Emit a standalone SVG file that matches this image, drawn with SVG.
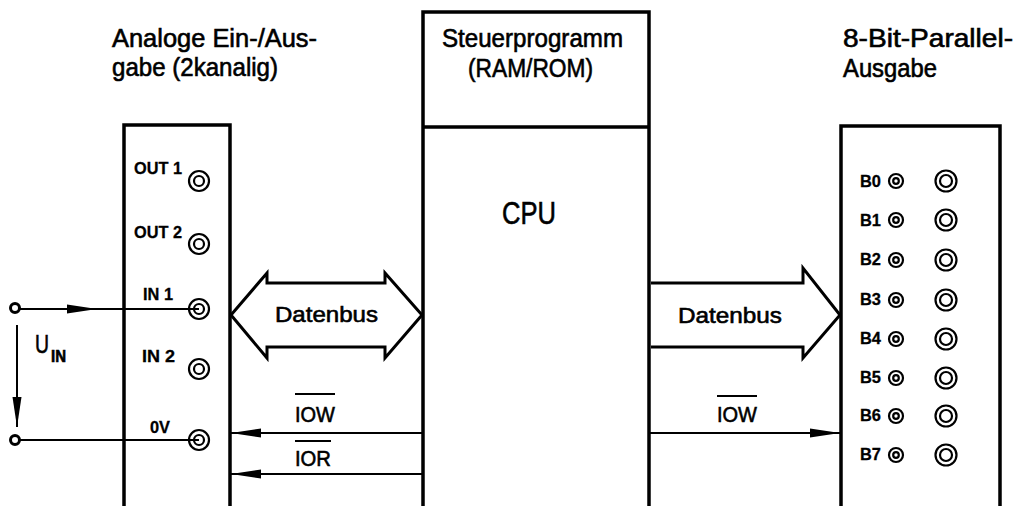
<svg xmlns="http://www.w3.org/2000/svg" width="1016" height="506" viewBox="0 0 1016 506">
<defs>
<style>
.box{fill:none;stroke:#000;stroke-width:3.5;stroke-linejoin:miter}
.ln{fill:none;stroke:#000;stroke-width:2}
.bus{fill:#fff;stroke:#000;stroke-width:3;stroke-linejoin:miter}
.ring{fill:none;stroke:#000;stroke-width:2.2}
.term{fill:#fff;stroke:#000;stroke-width:3}
.t{font-family:"Liberation Sans","DejaVu Sans",sans-serif;fill:#000;stroke:#000;stroke-width:0.6}
.title{font-size:25px}
.pin{font-size:17px;font-weight:bold;stroke-width:0.3}
.sig{font-size:22px}
</style>
<marker id="ah" viewBox="0 0 30 10" refX="30" refY="5" markerWidth="30" markerHeight="10" markerUnits="userSpaceOnUse" orient="auto">
<path d="M0,0.5 L30,5 L0,9.5 Z" fill="#000"/>
</marker>
</defs>

<g id="analog-io">
<path class="box" d="M124,506 V125 H230 V506"/>
<text class="t title" x="112" y="47" textLength="205" lengthAdjust="spacingAndGlyphs">Analoge Ein-/Aus-</text>
<text class="t title" x="112" y="76" textLength="166" lengthAdjust="spacingAndGlyphs">gabe (2kanalig)</text>
<text class="t pin" x="134" y="174" textLength="48" lengthAdjust="spacingAndGlyphs">OUT 1</text>
<circle class="ring" cx="199" cy="181" r="10"/><circle class="ring" cx="199" cy="181" r="5"/>
<text class="t pin" x="134" y="238" textLength="48" lengthAdjust="spacingAndGlyphs">OUT 2</text>
<circle class="ring" cx="199" cy="244" r="10"/><circle class="ring" cx="199" cy="244" r="5"/>
<text class="t pin" x="143" y="300" textLength="30" lengthAdjust="spacingAndGlyphs">IN 1</text>
<circle class="ring" cx="199" cy="309" r="10"/><circle class="ring" cx="199" cy="309" r="5"/>
<text class="t pin" x="142" y="362" textLength="33" lengthAdjust="spacingAndGlyphs">IN 2</text>
<circle class="ring" cx="199" cy="369" r="10"/><circle class="ring" cx="199" cy="369" r="5"/>
<text class="t pin" x="150" y="433" textLength="20" lengthAdjust="spacingAndGlyphs">0V</text>
<circle class="ring" cx="199" cy="440" r="10"/><circle class="ring" cx="199" cy="440" r="5"/>
</g>

<g id="cpu">
<path class="box" d="M423,506 V12 H649 V506 M423,127 H649"/>
<text class="t title" x="442" y="47" textLength="181" lengthAdjust="spacingAndGlyphs">Steuerprogramm</text>
<text class="t title" x="468" y="77" textLength="125" lengthAdjust="spacingAndGlyphs">(RAM/ROM)</text>
<text class="t" x="502" y="224" font-size="32" stroke-width="1.2" textLength="54" lengthAdjust="spacingAndGlyphs">CPU</text>
</g>

<g id="parallel-out">
<path class="box" d="M841,506 V126 H1000 V506"/>
<text class="t title" x="843" y="47" textLength="170" lengthAdjust="spacingAndGlyphs">8-Bit-Parallel-</text>
<text class="t title" x="843" y="77" textLength="94" lengthAdjust="spacingAndGlyphs">Ausgabe</text>
<g id="b0"><text class="t pin" x="860" y="187" textLength="21" lengthAdjust="spacingAndGlyphs">B0</text><circle class="ring" cx="896" cy="181" r="7"/><circle class="ring" cx="896" cy="181" r="2.8"/><circle class="ring" cx="946" cy="181" r="10.5"/><circle class="ring" cx="946" cy="181" r="6"/></g>
<g id="b1"><text class="t pin" x="860" y="226" textLength="21" lengthAdjust="spacingAndGlyphs">B1</text><circle class="ring" cx="896" cy="220" r="7"/><circle class="ring" cx="896" cy="220" r="2.8"/><circle class="ring" cx="946" cy="220" r="10.5"/><circle class="ring" cx="946" cy="220" r="6"/></g>
<g id="b2"><text class="t pin" x="860" y="265" textLength="21" lengthAdjust="spacingAndGlyphs">B2</text><circle class="ring" cx="896" cy="260" r="7"/><circle class="ring" cx="896" cy="260" r="2.8"/><circle class="ring" cx="946" cy="260" r="10.5"/><circle class="ring" cx="946" cy="260" r="6"/></g>
<g id="b3"><text class="t pin" x="860" y="305" textLength="21" lengthAdjust="spacingAndGlyphs">B3</text><circle class="ring" cx="896" cy="300" r="7"/><circle class="ring" cx="896" cy="300" r="2.8"/><circle class="ring" cx="946" cy="300" r="10.5"/><circle class="ring" cx="946" cy="300" r="6"/></g>
<g id="b4"><text class="t pin" x="860" y="344" textLength="21" lengthAdjust="spacingAndGlyphs">B4</text><circle class="ring" cx="896" cy="339" r="7"/><circle class="ring" cx="896" cy="339" r="2.8"/><circle class="ring" cx="946" cy="339" r="10.5"/><circle class="ring" cx="946" cy="339" r="6"/></g>
<g id="b5"><text class="t pin" x="860" y="383" textLength="21" lengthAdjust="spacingAndGlyphs">B5</text><circle class="ring" cx="896" cy="378" r="7"/><circle class="ring" cx="896" cy="378" r="2.8"/><circle class="ring" cx="946" cy="378" r="10.5"/><circle class="ring" cx="946" cy="378" r="6"/></g>
<g id="b6"><text class="t pin" x="860" y="421" textLength="21" lengthAdjust="spacingAndGlyphs">B6</text><circle class="ring" cx="896" cy="416" r="7"/><circle class="ring" cx="896" cy="416" r="2.8"/><circle class="ring" cx="946" cy="416" r="10.5"/><circle class="ring" cx="946" cy="416" r="6"/></g>
<g id="b7"><text class="t pin" x="860" y="460" textLength="21" lengthAdjust="spacingAndGlyphs">B7</text><circle class="ring" cx="896" cy="455" r="7"/><circle class="ring" cx="896" cy="455" r="2.8"/><circle class="ring" cx="946" cy="455" r="10.5"/><circle class="ring" cx="946" cy="455" r="6"/></g>
</g>

<g id="connectors">
<line class="ln" x1="19" y1="309" x2="97" y2="309" marker-end="url(#ah)"/>
<line class="ln" x1="97" y1="309" x2="199" y2="309"/>
<line class="ln" x1="19" y1="440" x2="199" y2="440"/>
<line class="ln" x1="17" y1="325" x2="17" y2="427" marker-end="url(#ah)"/>
<path class="bus" d="M231,315 L267,273 V283 H385 V273 L422,315 L385,358 V347 H267 V358 Z"/>
<text class="t sig" x="275" y="322" font-size="25" textLength="103" lengthAdjust="spacingAndGlyphs">Datenbus</text>
<path class="bus" d="M651,283 H803 V268 L840,315 L803,358 V347 H651"/>
<text class="t sig" x="678" y="323" font-size="25" textLength="104" lengthAdjust="spacingAndGlyphs">Datenbus</text>
<line class="ln" x1="422" y1="433" x2="231" y2="433" marker-end="url(#ah)"/>
<text class="t sig" x="295" y="422" textLength="40" lengthAdjust="spacingAndGlyphs">IOW</text>
<line class="ln" x1="295" y1="394" x2="335" y2="394"/>
<line class="ln" x1="422" y1="474" x2="231" y2="474" marker-end="url(#ah)"/>
<text class="t sig" x="295" y="466" textLength="36" lengthAdjust="spacingAndGlyphs">IOR</text>
<line class="ln" x1="295" y1="441" x2="331" y2="441"/>
<line class="ln" x1="650" y1="433" x2="840" y2="433" marker-end="url(#ah)"/>
<text class="t sig" x="717" y="422" textLength="40" lengthAdjust="spacingAndGlyphs">IOW</text>
<line class="ln" x1="717" y1="396" x2="757" y2="396"/>
</g>

<g id="input-terminals">
<circle class="term" cx="15" cy="308" r="4.5"/>
<circle class="term" cx="15" cy="440" r="4.5"/>
<text class="t" x="35" y="353" font-size="25" textLength="14" lengthAdjust="spacingAndGlyphs">U</text>
<text class="t" x="51" y="362" font-size="16" font-weight="bold" stroke-width="0.3" textLength="15" lengthAdjust="spacingAndGlyphs">IN</text>
</g>
</svg>
